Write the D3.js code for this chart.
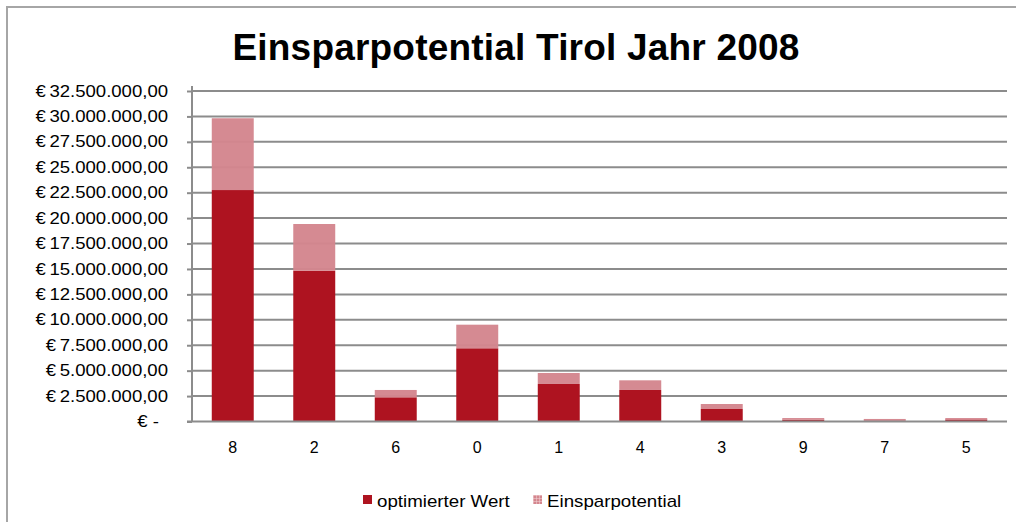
<!DOCTYPE html>
<html><head><meta charset="utf-8">
<script src="https://cdn.jsdelivr.net/npm/d3@7"></script>
<style>body{margin:0;background:#fff}svg{display:block}text{font-family:"Liberation Sans",Arial,sans-serif}</style>
</head><body><svg id="c" width="1016" height="522"></svg>
<script>
const categories = ["8","2","6","0","1","4","3","9","7","5"];
const optimierterWert = [22760000,14830000,2380000,7200000,3690000,3100000,1230000,180000,40000,200000];
const einsparpotential = [7060000,4590000,720000,2320000,1080000,950000,490000,160000,210000,140000];
const yTicks = [0,2500000,5000000,7500000,10000000,12500000,15000000,17500000,20000000,22500000,25000000,27500000,30000000,32500000];
const title = "Einsparpotential Tirol Jahr 2008";
const seriesNames = ["optimierter Wert","Einsparpotential"];

const svg = d3.select("#c");
const L=192, R=1007, T=91, B=421.5;
const x = d3.scaleBand().domain(categories).range([L,R]).paddingInner(0.485).paddingOuter(0.2425);
const y = d3.scaleLinear().domain([0,32500000]).range([B,T]);
const fmt = v => v===0 ? "€ -" : "€\u2009" + d3.format(",.2f")(v).replace(/,/g,"#").replace(/\./g,",").replace(/#/g,".");

// border
svg.append("rect").attr("x",7).attr("y",7).attr("width",1020).attr("height",530).attr("fill","none").attr("stroke","#a6a6a6").attr("stroke-width",2);

svg.append("text").attr("x",516).attr("y",60).attr("text-anchor","middle").attr("font-size",37).attr("font-weight","bold").attr("letter-spacing",0.2).text(title);

// gridlines
svg.append("g").selectAll("line").data(yTicks.slice(1)).join("line")
 .attr("x1",L).attr("x2",R).attr("y1",d=>y(d)).attr("y2",d=>y(d)).attr("stroke","#8c8c8c").attr("stroke-width",2);

const stack = categories.map((c,i)=>({c, a:optimierterWert[i], b:einsparpotential[i]}));
const g = svg.append("g");
g.selectAll("rect.a").data(stack).join("rect").attr("class","a")
 .attr("x",d=>x(d.c)).attr("width",x.bandwidth()).attr("y",d=>y(d.a)).attr("height",d=>B-y(d.a)).attr("fill","#ae1320");
g.selectAll("rect.b").data(stack).join("rect").attr("class","b")
 .attr("x",d=>x(d.c)).attr("width",x.bandwidth()).attr("y",d=>y(d.a+d.b)).attr("height",d=>y(d.a)-y(d.a+d.b)).attr("fill","#d4868e").attr("opacity",0.97);

// y axis
const yAxis = d3.axisLeft(y).tickValues(yTicks).tickSize(5).tickFormat(fmt).tickPadding(19);
const ya = svg.append("g").attr("transform",`translate(${L},0)`).call(yAxis);
ya.select(".domain").attr("stroke","#8c8c8c").attr("stroke-width",2).attr("d",`M0,${T-5}V${B}`);
ya.selectAll(".tick line").attr("stroke","#8c8c8c").attr("stroke-width",2);
ya.selectAll(".tick text").attr("font-size",16).attr("fill","#000").attr("font-family","Liberation Sans, Arial, sans-serif")
  .attr("x", d => d===0 ? -33 : -24)
  .attr("transform", function(){ const xe=+this.getAttribute("x"); return `translate(${xe},0) scale(1.16,1) translate(${-xe},0)`; });

// x axis
const xAxis = d3.axisBottom(x).tickSize(0).tickPadding(20);
const xa = svg.append("g").attr("transform",`translate(0,${B})`).call(xAxis);
xa.select(".domain").attr("stroke","#8c8c8c").attr("stroke-width",2).attr("d",`M${L-5},0H${R}`);
xa.selectAll(".tick text").attr("font-size",16).attr("fill","#000").attr("font-family","Liberation Sans, Arial, sans-serif");

// legend
const defs = svg.append("defs");
const p = defs.append("pattern").attr("id","grid").attr("width",3).attr("height",3).attr("patternUnits","userSpaceOnUse");
p.append("rect").attr("width",3).attr("height",3).attr("fill","#d4868e");
p.append("path").attr("d","M0,0H3M0,0V3").attr("stroke","#f3d6d9").attr("stroke-width",1);
const leg = [{n:seriesNames[0],x:363,f:"#ae1320"},{n:seriesNames[1],x:533,f:"url(#grid)"}];
const lg = svg.append("g").selectAll("g").data(leg).join("g").attr("transform",d=>`translate(${d.x},495)`);
lg.append("rect").attr("width",9).attr("height",9).attr("fill",d=>d.f);
lg.append("text").attr("x",14).attr("y",11.5).attr("font-size",16)
  .attr("transform","translate(14,0) scale(1.17,1) translate(-14,0)").text(d=>d.n);
</script></body></html>
